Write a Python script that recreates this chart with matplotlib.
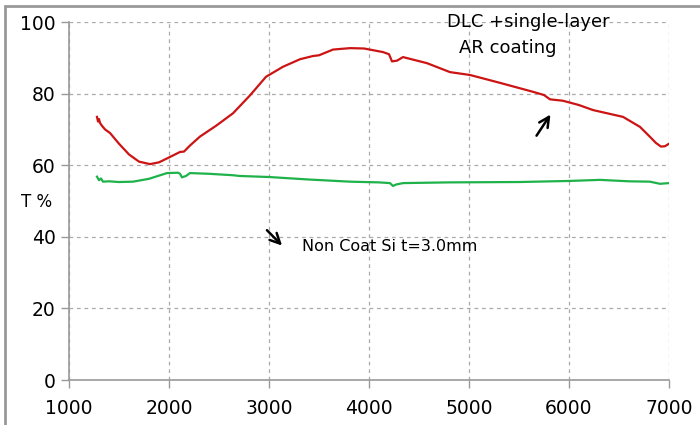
import matplotlib.pyplot as plt
from matplotlib.patches import Rectangle

# wavelength / wavenumber axis values
dlc_x = [1280, 1290, 1300, 1310, 1330, 1360, 1410, 1500, 1600, 1700, 1810, 1900, 2010, 2110, 2150,
         2210, 2310, 2470, 2640, 2810, 2970, 3140, 3310, 3440, 3500, 3640, 3810, 3950, 4140, 4200,
         4230, 4280, 4340, 4580, 4810, 5010, 5310, 5640, 5750, 5810, 5940, 6100, 6240, 6540,
         6710, 6800, 6870, 6920, 6960, 7000]
dlc_y = [73.5, 72.2, 72.9, 71.8, 71.0, 70.0, 69.0, 66.0, 63.0, 61.0, 60.3, 60.8, 62.3, 63.7, 63.8,
         65.5, 68.0, 71.0, 74.5, 79.5, 84.7, 87.5, 89.6, 90.5, 90.7, 92.3, 92.7, 92.6, 91.6, 91.0,
         89.0, 89.2, 90.2, 88.5, 86.0, 85.2, 83.0, 80.5, 79.6, 78.4, 78.0, 76.8, 75.4, 73.5,
         70.7, 68.2, 66.2, 65.2, 65.3, 66.0]

si_x = [1280, 1300, 1320, 1340, 1400, 1500, 1640, 1800, 1980, 2090, 2110, 2130, 2170, 2210,
        2400, 2640, 2700, 3000, 3400, 3810, 4100, 4210, 4240, 4270, 4340, 4800, 5500, 6000,
        6310, 6600, 6810, 6910, 7000]
si_y = [56.8, 55.8, 56.3, 55.4, 55.5, 55.3, 55.4, 56.2, 57.8, 57.9, 57.6, 56.6, 57.0, 57.8,
        57.6, 57.2, 57.0, 56.7, 56.0, 55.4, 55.2, 55.0, 54.2, 54.6, 55.0, 55.2, 55.3, 55.6,
        55.9, 55.5, 55.4, 54.8, 55.0]

x_ticks = [1000, 2000, 3000, 4000, 5000, 6000, 7000]
y_ticks = [0, 20, 40, 60, 80, 100]

fig = plt.figure(figsize=(7, 4.25), dpi=100)
ax = fig.add_axes([69/700, 45/425, 600/700, 358/425])

ax.plot(dlc_x, dlc_y, color='#cc1414', lw=1.6)
ax.plot(si_x, si_y, color='#1fb24a', lw=1.6)

ax.set_xlim(1000, 7000)
ax.set_ylim(0, 100)
ax.set_xticks(x_ticks)
ax.set_yticks(y_ticks)
ax.tick_params(labelsize=13.5, colors='#999999', labelcolor='black', length=6, width=1)
ax.tick_params(axis='x', pad=8)

for s in ['top', 'right']:
    ax.spines[s].set_visible(False)
for s in ['left', 'bottom']:
    ax.spines[s].set_color('#999999')
    ax.spines[s].set_linewidth(1.2)

ax.grid(True, color='#aaaaaa', ls=(0, (3, 3)), lw=0.9)
ax.set_axisbelow(True)

# "T %" sits left of the axis, in figure pixels
fig.text(21/700, 1 - 202/425, 'T %', fontsize=12, ha='left', va='center')
ax.text(4780, 100, 'DLC +single-layer', fontsize=13, ha='left', va='center')
ax.text(4900, 92.6, 'AR coating', fontsize=13, ha='left', va='center')
ax.text(3330, 37.2, 'Non Coat Si t=3.0mm', fontsize=11.5, ha='left', va='center')

ax.annotate('', xy=(5830, 74.8), xytext=(5660, 67.6),
            arrowprops=dict(arrowstyle='->', color='black', lw=1.8, mutation_scale=18))
ax.annotate('', xy=(3150, 37.0), xytext=(2960, 42.4),
            arrowprops=dict(arrowstyle='->', color='black', lw=1.8, mutation_scale=18))

# outer frame of the original picture
fig.patches.append(Rectangle((5/700, -0.1), 1.2, (419/425) + 0.1, transform=fig.transFigure,
                             fill=False, edgecolor='#999999', lw=2))

fig.savefig('out.png', dpi=100)
